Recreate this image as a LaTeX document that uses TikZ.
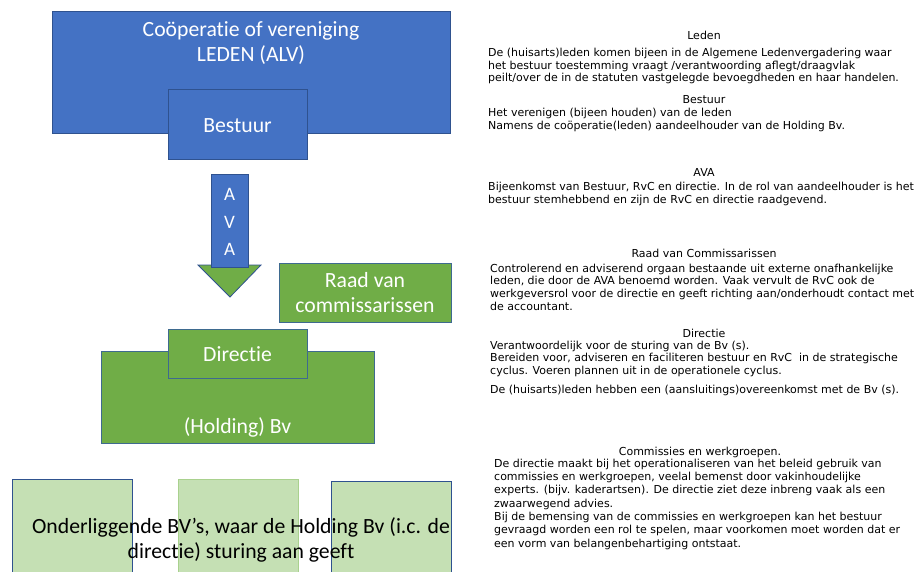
\documentclass[tikz,border=0pt]{standalone}
\usepackage{fontspec}
\setmainfont{Carlito}[Ligatures=NoCommon]
\newfontfamily\verd{DejaVu Sans}
\definecolor{mblue}{HTML}{4472C4}
\definecolor{mblueb}{HTML}{2F528F}
\definecolor{mgreen}{HTML}{70AD47}
\definecolor{mgreenb}{HTML}{3E6A8F}
\definecolor{lgreen}{HTML}{C5E0B4}
\definecolor{lgreenb}{HTML}{A9D18E}
\newcommand\sidelines[1]{\begin{tabular}[t]{@{}l@{}}#1\end{tabular}}
\tikzset{
  bluebox/.style={fill=mblue,draw=mblueb,line width=0.9pt},
  greenbox/.style={fill=mgreen,draw=mgreenb,line width=0.9pt},
  lightbox/.style={fill=lgreen,draw=mblueb,line width=0.9pt},
  bigtxt/.style={text=white,font=\fontsize{21.7}{25}\selectfont,align=center,inner sep=0pt},
  sidetitle/.style={font=\verd\fontsize{11}{12.7}\selectfont,anchor=base,inner sep=0pt},
  sidebody/.style={font=\verd\fontsize{11}{12.7}\selectfont,anchor=base west,inner sep=0pt},
}
\begin{document}
\begin{tikzpicture}[x=1pt,y=-1pt]
\useasboundingbox (0,0) rectangle (920,572);
\clip (0,0) rectangle (920,572);
% top
\path[bluebox] (52,11) rectangle (450,133);
\node[bigtxt] (coop) at (251,43) {Coöperatie of vereniging\\LEDEN (ALV)};
\path[bluebox] (168,89) rectangle (307,159);
\node[bigtxt] (bestuur) at (237.5,126) {Bestuur};
% AVA arrow
\path[fill=mgreen,draw=mblueb,line width=0.8pt] (198,265) -- (261,265) -- (230,297) -- cycle;
\path[bluebox] (211,174) rectangle (248,267);
\node[bigtxt,font=\fontsize{19}{27.5}\selectfont] (ava) at (229.5,222) {A\\V\\A};
% Raad
\path[greenbox] (279,263) rectangle (451,322);
\node[bigtxt] (raad) at (365,293) {Raad van\\commissarissen};
% Holding
\path[greenbox] (101,351) rectangle (374,443);
\node[bigtxt] (holding) at (237.5,427) {(Holding) Bv};
\path[greenbox] (168,329) rectangle (307,378);
\node[bigtxt] (directie) at (237.5,354) {Directie};
% bottom boxes
\path[lightbox] (12,479) rectangle (132,580);
\path[lightbox,draw=lgreenb] (178,479) rectangle (298,580);
\path[lightbox] (331,481) rectangle (451,580);
\node[bigtxt,text=black] (onder) at (241,540) {Onderliggende BV’s, waar de Holding Bv (i.c. de\\directie) sturing aan geeft};
% side texts
\node[sidetitle] (t1) at (704,40) {Leden};
\node[sidebody] (b1) at (488,56.5) {\sidelines{De (huisarts)leden komen bijeen in de Algemene Ledenvergadering waar\\het bestuur toestemming vraagt /verantwoording aflegt/draagvlak\\peilt/over de in de statuten vastgelegde bevoegdheden en haar handelen.}};
\node[sidetitle] (t2) at (704,104) {Bestuur};
\node[sidebody] (b2) at (488,116.5) {\sidelines{Het verenigen (bijeen houden) van de leden\\Namens de coöperatie(leden) aandeelhouder van de Holding Bv.}};
\node[sidetitle] (t3) at (704,176) {AVA};
\node[sidebody] (b3) at (488,190.5) {\sidelines{Bijeenkomst van Bestuur, RvC en directie. In de rol van aandeelhouder is het\\bestuur stemhebbend en zijn de RvC en directie raadgevend.}};
\node[sidetitle] (t4) at (704,257) {Raad van Commissarissen};
\node[sidebody] (b4) at (490,272) {\sidelines{Controlerend en adviserend orgaan bestaande uit externe onafhankelijke\\leden, die door de AVA benoemd worden. Vaak vervult de RvC ook de\\werkgeversrol voor de directie en geeft richting aan/onderhoudt contact met\\de accountant.}};
\node[sidetitle] (t5) at (704,337) {Directie};
\node[sidebody] (b5) at (490,349) {\sidelines{Verantwoordelijk voor de sturing van de Bv (s).\\Bereiden voor, adviseren en faciliteren bestuur en RvC\ \ in de strategische\\cyclus. Voeren plannen uit in de operationele cyclus.\\[6pt]De (huisarts)leden hebben een (aansluitings)overeenkomst met de Bv (s).}};
\node[sidetitle] (t6) at (700,455) {Commissies en werkgroepen.};
\node[sidebody] (b6) at (494,467) {\renewcommand\arraystretch{1.055}\sidelines{De directie maakt bij het operationaliseren van het beleid gebruik van\\commissies en werkgroepen, veelal bemenst door vakinhoudelijke\\experts. (bijv. kaderartsen). De directie ziet deze inbreng vaak als een\\zwaarwegend advies.\\Bij de bemensing van de commissies en werkgroepen kan het bestuur\\gevraagd worden een rol te spelen, maar voorkomen moet worden dat er\\een vorm van belangenbehartiging ontstaat.}};
\end{tikzpicture}
\end{document}
